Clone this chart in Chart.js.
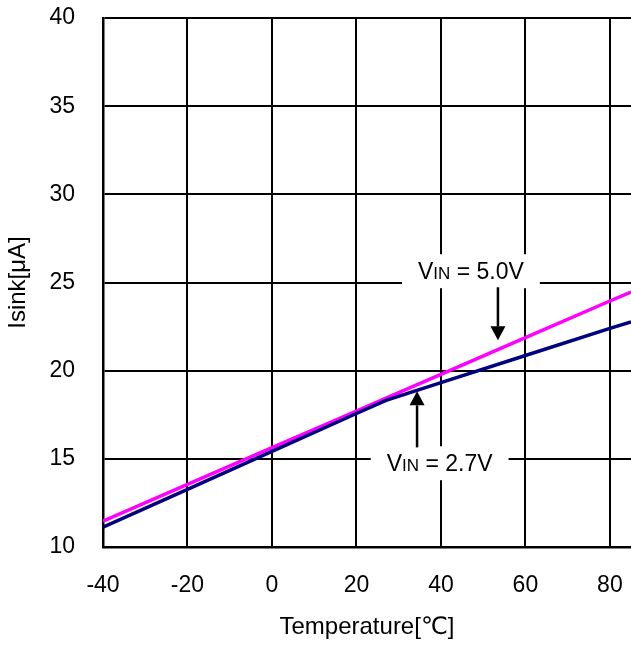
<!DOCTYPE html>
<html>
<head>
<meta charset="utf-8">
<script src="https://cdn.jsdelivr.net/npm/chart.js@4/dist/chart.umd.min.js"></script>
<style>
  html, body { margin: 0; padding: 0; background: #fff; }
  #wrap { width: 631px; height: 648px; }
</style>
</head>
<body>
<div id="wrap"><canvas id="isink"></canvas></div>
<script>
// temperature points
const temps  = [-40, -20, 0, 20, 27, 40, 60, 80, 85];
// Isink [uA] for each supply voltage
const vin27 = [11.12, 13.27, 15.42, 17.57, 18.32, 19.32, 20.86, 22.40, 22.77];
const vin50 = [11.47, 13.55, 15.63, 17.71, 18.44, 19.79, 21.87, 23.95, 24.46];

const FONT = "'Liberation Sans', Arial, 'DejaVu Sans', sans-serif";

// callout labels, in data units
const notes = [
  { main: ' = 5.0V', cx: 47.1, cy: 25.64, ax: 53.5, from: 24.73, to: 21.72 },
  { main: ' = 2.7V', cx: 39.7, cy: 14.75, ax: 34.35, from: 15.65, to: 18.83 }
];

const callouts = {
  id: 'callouts',
  afterDatasetsDraw(chart) {
    const ctx = chart.ctx, xs = chart.scales.x, ys = chart.scales.y;
    ctx.save();
    notes.forEach(n => {
      const big = '23px ' + FONT, small = '17px ' + FONT;
      ctx.font = big;  const wV = ctx.measureText('V').width;
      const wM = ctx.measureText(n.main).width;
      ctx.font = small; const wI = ctx.measureText('IN').width;
      const w = wV + wI + wM;
      const cx = xs.getPixelForValue(n.cx), cy = ys.getPixelForValue(n.cy);
      ctx.fillStyle = '#fff';
      ctx.fillRect(cx - w / 2 - 16, cy - 17, w + 32, 34);
      ctx.fillStyle = '#000';
      ctx.textBaseline = 'alphabetic';
      ctx.textAlign = 'left';
      let x = cx - w / 2, base = cy + 8;
      ctx.font = big;  ctx.fillText('V', x, base); x += wV;
      ctx.font = small; ctx.fillText('IN', x, base); x += wI;
      ctx.font = big;  ctx.fillText(n.main, x, base);

      // arrow
      const ax = xs.getPixelForValue(n.ax);
      const y0 = ys.getPixelForValue(n.from), y1 = ys.getPixelForValue(n.to);
      const dir = y1 > y0 ? 1 : -1, head = 14;
      ctx.strokeStyle = '#000';
      ctx.lineWidth = 2.5;
      ctx.beginPath();
      ctx.moveTo(ax, y0);
      ctx.lineTo(ax, y1 - dir * head);
      ctx.stroke();
      ctx.beginPath();
      ctx.moveTo(ax, y1);
      ctx.lineTo(ax - 7.5, y1 - dir * head);
      ctx.lineTo(ax + 7.5, y1 - dir * head);
      ctx.closePath();
      ctx.fill();
    });
    ctx.restore();
  }
};

new Chart(document.getElementById('isink'), {
  type: 'line',
  data: {
    datasets: [
      { label: 'VIN = 2.7V', data: temps.map((t, i) => ({ x: t, y: vin27[i] })),
        borderColor: '#000080', borderWidth: 3.5, pointRadius: 0, tension: 0 },
      { label: 'VIN = 5.0V', data: temps.map((t, i) => ({ x: t, y: vin50[i] })),
        borderColor: '#ff00ff', borderWidth: 3.5, pointRadius: 0, tension: 0 }
    ]
  },
  options: {
    responsive: true,
    maintainAspectRatio: false,
    animation: false,
    layout: { padding: { top: 18, right: 0, bottom: 0, left: 0 } },
    plugins: { legend: { display: false }, tooltip: { enabled: false } },
    scales: {
      x: {
        type: 'linear', min: -40, max: 85,
        afterFit: s => { s.height = 101; s.paddingLeft = 0; s.paddingRight = 0; },
        ticks: { stepSize: 20, includeBounds: false, color: '#000', padding: 25,
                 font: { family: FONT, size: 23 } },
        grid: { color: '#000', lineWidth: 2, drawTicks: false },
        border: { color: '#000', width: 2.5 },
        title: { display: true, text: 'Temperature[℃]', color: '#000',
                 padding: { top: 0, bottom: 6 }, font: { family: FONT, size: 24 } }
      },
      y: {
        min: 10, max: 40,
        afterFit: s => { s.width = 103; s.paddingTop = 0; s.paddingBottom = 0; },
        ticks: { stepSize: 5, color: '#000', padding: 28,
                 font: { family: FONT, size: 23 } },
        grid: { color: '#000', lineWidth: 2, drawTicks: false },
        border: { color: '#000', width: 2.5 },
        title: { display: true, text: 'Isink[μA]', color: '#000',
                 padding: 4, font: { family: FONT, size: 24 } }
      }
    }
  },
  plugins: [callouts]
});
</script>
</body>
</html>
